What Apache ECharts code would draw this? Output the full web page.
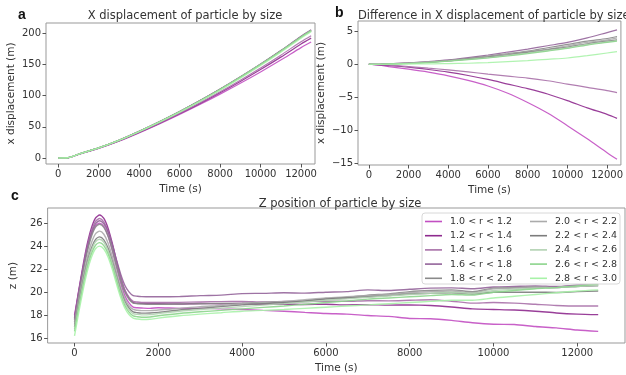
<!DOCTYPE html>
<html><head><meta charset="utf-8">
<script src="https://cdn.jsdelivr.net/npm/echarts@6/dist/echarts.min.js"></script>
<style>html,body{margin:0;padding:0;background:#fff}#c{width:626px;height:375px}</style>
</head><body><div id="c"></div>
<script>
// ---------- DATA ----------
const sizeLabels = ['1.0 < r < 1.2','1.2 < r < 1.4','1.4 < r < 1.6','1.6 < r < 1.8','1.8 < r < 2.0',
                    '2.0 < r < 2.2','2.2 < r < 2.4','2.4 < r < 2.6','2.6 < r < 2.8','2.8 < r < 3.0'];
const sizeColors = ['#c24fc2','#8e2a8e','#a870a8','#93649a','#8a8a8a',
                    '#ababab','#7c7c7c','#b2d2b2','#8cd48c','#a8f2a8'];

// panel a & b time points (s)
const timeAB = [0,500,1000,2000,3000,4000,5000,6000,7000,8000,9000,10000,11000,12000,12500];

// panel a: x displacement (m)
const xDisp = [
  [0,0.35,5.65,15.25,26.8,40.25,54.55,69.7,85.6,102.2,119.6,137.7,156.7,176.6,185.6],
  [0,0.4,5.8,15.55,27.2,40.8,55.3,70.7,87,104.3,122.5,141.5,161.4,182.4,191.8],
  [0,0.45,5.9,15.65,27.4,41.15,55.85,71.5,88.2,105.9,124.5,144,164.5,186,195.7],
  [0,0.5,6.05,16.2,28.4,42.65,58,74.4,91.85,110.3,129.8,150.3,172,194.8,205.2],
  [0,0.5,6.05,16.2,28.35,42.6,57.9,74.25,91.6,110,129.5,150,171.5,193.9,204.2],
  [0,0.5,6.05,16.15,28.35,42.55,57.85,74.15,91.5,109.9,129.3,149.8,171.3,193.7,204],
  [0,0.5,6.05,16.15,28.3,42.5,57.8,74.1,91.4,109.8,129.2,149.6,171.1,193.5,203.7],
  [0,0.5,6.05,16.15,28.3,42.5,57.75,74,91.35,109.7,129.1,149.5,171,193.4,203.6],
  [0,0.5,6.05,16.1,28.25,42.45,57.7,73.95,91.25,109.6,129,149.4,170.9,193.3,203.5],
  [0,0.5,6,16.05,28.05,42.1,57.15,73.25,90.4,108.55,127.75,147.95,169.3,191.7,201.9]
];

// panel b: difference in x displacement (m)
const xDiff = [
  [0,-0.15,-0.35,-0.75,-1.2,-1.75,-2.45,-3.3,-4.4,-5.8,-7.4,-9.3,-11.3,-13.4,-14.4],
  [0,-0.1,-0.2,-0.45,-0.8,-1.2,-1.7,-2.3,-3.0,-3.7,-4.5,-5.5,-6.6,-7.6,-8.2],
  [0,-0.05,-0.1,-0.35,-0.6,-0.85,-1.15,-1.5,-1.8,-2.1,-2.5,-3.0,-3.5,-4.0,-4.3],
  [0,0,0.05,0.2,0.4,0.65,1.0,1.4,1.85,2.3,2.8,3.3,4.0,4.8,5.2],
  [0,0,0.05,0.2,0.35,0.6,0.9,1.25,1.6,2.0,2.5,3.0,3.5,3.9,4.2],
  [0,0,0.05,0.15,0.35,0.55,0.85,1.15,1.5,1.9,2.3,2.8,3.3,3.7,4.0],
  [0,0,0.05,0.15,0.3,0.5,0.8,1.1,1.4,1.8,2.2,2.6,3.1,3.5,3.7],
  [0,0,0.05,0.15,0.3,0.5,0.75,1.0,1.35,1.7,2.1,2.5,3.0,3.4,3.6],
  [0,0,0.05,0.1,0.25,0.45,0.7,0.95,1.25,1.6,2.0,2.4,2.9,3.3,3.5],
  [0,0,0,0.05,0.05,0.1,0.15,0.25,0.4,0.55,0.75,0.95,1.3,1.7,1.9]
];

// panel c time points (s)
const timeC = [0,100,200,300,400,500,600,700,800,900,1000,1100,1200,1300,1400,1500,1600,1800,
  2000,2500,3000,3500,4000,4500,5000,5500,6000,6500,7000,7500,8000,8500,9000,9500,10000,10500,11000,11500,12000,12500];

// panel c: z position (m)
const zPos = [
  [18.0,20.08,22.0,23.68,24.96,25.76,26.0,25.71,24.9,23.66,22.2,20.82,19.72,19.07,18.7,18.65,18.63,18.6,
   18.65,18.6,18.62,18.55,18.5,18.42,18.35,18.25,18.15,18.1,17.98,17.9,17.72,17.7,17.55,17.35,17.22,17.2,17.02,16.9,16.72,16.6],
  [17.8,20.11,22.25,24.12,25.54,26.43,26.7,26.4,25.56,24.27,22.75,21.3,20.16,19.48,19.1,19.05,19.03,19.0,
   19.0,18.98,19.02,19.0,19.02,18.95,18.97,18.93,18.95,18.9,18.92,18.88,18.9,18.85,18.72,18.55,18.5,18.45,18.35,18.2,18.1,18.05],
  [17.7,19.96,22.05,23.88,25.27,26.14,26.4,26.11,25.32,24.1,22.66,21.29,20.21,19.56,19.2,19.15,19.12,19.1,
   19.1,19.12,19.15,19.18,19.2,19.15,19.2,19.18,19.22,19.2,19.26,19.25,19.3,19.35,19.22,19.05,19.1,19.05,18.95,18.85,18.8,18.8],
  [17.6,19.84,21.9,23.71,25.08,25.94,26.2,25.94,25.23,24.12,22.82,21.59,20.61,20.03,19.7,19.65,19.62,19.6,
   19.6,19.62,19.7,19.75,19.88,19.9,19.95,19.92,20.0,20.05,20.2,20.15,20.25,20.35,20.38,20.3,20.45,20.5,20.55,20.5,20.62,20.7],
  [17.4,19.61,21.65,23.44,24.8,25.65,25.9,25.63,24.87,23.71,22.34,21.04,20.01,19.39,19.05,19.0,18.98,18.95,
   18.95,18.97,19.0,19.02,19.05,19.1,19.15,19.2,19.45,19.55,19.75,19.85,20.05,20.15,20.2,20.05,20.35,20.4,20.45,20.4,20.5,20.55],
  [17.2,19.31,21.25,22.95,24.25,25.06,25.3,25.03,24.28,23.12,21.76,20.47,19.45,18.84,18.5,18.43,18.4,18.4,
   18.45,18.6,18.75,18.85,19.0,19.1,19.2,19.35,19.5,19.6,19.7,19.8,19.95,20.05,20.1,19.95,20.3,20.35,20.4,20.4,20.55,20.65],
  [17.0,19.03,20.9,22.54,23.79,24.57,24.8,24.54,23.83,22.72,21.42,20.19,19.21,18.63,18.3,18.22,18.18,18.2,
   18.25,18.45,18.6,18.75,18.9,19.0,19.1,19.25,19.4,19.5,19.6,19.7,19.85,19.9,19.95,19.85,20.0,20.0,20.0,19.98,20.05,20.1],
  [16.8,18.83,20.7,22.34,23.59,24.37,24.6,24.34,23.63,22.54,21.25,20.02,19.05,18.47,18.15,18.07,18.03,18.05,
   18.15,18.35,18.5,18.62,18.75,18.88,19.0,19.15,19.3,19.42,19.55,19.68,19.8,19.9,20.0,19.9,20.15,20.25,20.35,20.4,20.5,20.6],
  [16.6,18.6,20.45,22.07,23.3,24.07,24.3,24.05,23.35,22.27,21.0,19.79,18.84,18.27,17.95,17.87,17.83,17.85,
   17.95,18.15,18.3,18.42,18.55,18.68,18.8,18.95,19.1,19.25,19.4,19.5,19.6,19.7,19.8,19.75,20.0,20.15,20.3,20.4,20.55,20.7],
  [16.2,18.23,20.1,21.74,22.99,23.77,24.0,23.75,23.06,22.0,20.75,19.56,18.63,18.06,17.75,17.67,17.63,17.65,
   17.75,17.95,18.1,18.22,18.35,18.42,18.5,18.6,18.7,18.8,18.9,19.0,19.1,19.2,19.3,19.3,19.5,19.65,19.8,19.95,20.1,20.2]
];

// tick labels
const timeTicks = [0,2000,4000,6000,8000,10000,12000];
const xDispTicks = [0,50,100,150,200];
const xDiffTicks = [-15,-10,-5,0,5];
const zTicks = [16,18,20,22,24,26];

// ---------- CHART ----------
const FONT = 'DejaVu Sans';
const TXT = '#333';
const chart = echarts.init(document.getElementById('c'), null, {renderer:'canvas'});

function xAx(grid, min, max){
  return {type:'value', gridIndex:grid, min:min, max:max, position:'bottom', name:'Time (s)', nameLocation:'middle',
    nameGap:20, nameTextStyle:{fontFamily:FONT,fontSize:10.5,color:TXT},
    axisLine:{show:false, onZero:false}, splitLine:{show:false},
    axisTick:{show:true, length:3.5, customValues:timeTicks, lineStyle:{color:'#555'}},
    axisLabel:{customValues:timeTicks, fontFamily:FONT, fontSize:10, color:TXT, margin:5,
      formatter: v=>String(v)}};
}
function yAx(grid, min, max, ticks, name, gap, fmt){
  return {type:'value', gridIndex:grid, min:min, max:max, position:'left', name:name, nameLocation:'middle',
    nameGap:gap, nameRotate:90, nameTextStyle:{fontFamily:FONT,fontSize:10.5,color:TXT},
    axisLine:{show:false, onZero:false}, splitLine:{show:false},
    axisTick:{show:true, length:3.5, customValues:ticks, lineStyle:{color:'#555'}},
    axisLabel:{customValues:ticks, fontFamily:FONT, fontSize:10, color:TXT, margin:5,
      formatter: fmt || (v=>String(v))}};
}

const series = [];
sizeLabels.forEach((name,i)=>{
  const base = {name:name, type:'line', showSymbol:false, symbol:'none', smooth:0.3,
    lineStyle:{color:sizeColors[i], width:1.2, opacity:0.9}, itemStyle:{color:sizeColors[i]},
    emphasis:{disabled:true}, animation:false, z:2+i};
  series.push(Object.assign({}, base, {xAxisIndex:0, yAxisIndex:0,
    data: timeAB.map((t,k)=>[t, xDisp[i][k]])}));
  series.push(Object.assign({}, base, {xAxisIndex:1, yAxisIndex:1,
    data: timeAB.map((t,k)=>[t, xDiff[i][k]])}));
  series.push(Object.assign({}, base, {xAxisIndex:2, yAxisIndex:2, smooth:0.25,
    lineStyle:{color:sizeColors[i], width:1.4, opacity:0.9},
    data: timeC.map((t,k)=>[t, zPos[i][k]])}));
});

const legendCommon = {orient:'vertical', icon:'rect', itemWidth:17, itemHeight:1.6, itemGap:2.2,
  padding:0, z:20, textStyle:{fontFamily:FONT, fontSize:9.5, color:TXT, lineHeight:12, padding:[0,0,0,3]},
  selectedMode:false};

chart.setOption({
  animation:false,
  backgroundColor:'#fff',
  grid:[
    {left:46, top:23, width:269, height:141, show:true, borderColor:'#999', borderWidth:1},
    {left:358, top:21, width:267, height:144, show:true, borderColor:'#999', borderWidth:1},
    {left:45, top:208, width:580, height:143, show:true, borderColor:'#999', borderWidth:1}
  ],
  xAxis:[xAx(0,-600,12690), xAx(1,-546,12696), xAx(2,-642,13140)],
  yAxis:[
    yAx(0,-9.6,216,xDispTicks,'x displacement (m)',29),
    yAx(1,-15.26,6.55,xDiffTicks,'x displacement (m)',31, v=> v<0 ? '\u2212'+Math.abs(v) : String(v)),
    yAx(2,15.59,27.31,zTicks,'z (m)',25)
  ],
  legend:[
    Object.assign({left:425, top:215.5, data:sizeLabels.slice(0,5)}, legendCommon),
    Object.assign({left:530, top:215.5, data:sizeLabels.slice(5)}, legendCommon)
  ],
  title:[
    {text:'X displacement of particle by size', left:180, top:5, textAlign:'center',
      textStyle:{fontFamily:FONT, fontSize:11.5, fontWeight:'normal', color:TXT}},
    {text:'Difference in X displacement of particle by size', left:353, top:5,
      textStyle:{fontFamily:FONT, fontSize:11.5, fontWeight:'normal', color:TXT}},
    {text:'Z position of particle by size', left:335, top:193, textAlign:'center',
      textStyle:{fontFamily:FONT, fontSize:11.5, fontWeight:'normal', color:TXT}}
  ],
  graphic:[
    {type:'rect', shape:{x:422, y:213, width:198, height:71, r:3}, z:15,
      style:{fill:'rgba(255,255,255,0.85)', stroke:'#d8d8d8', lineWidth:1}},
    {type:'text', left:18, top:8, z:10, style:{text:'a', font:'bold 14px "Liberation Sans"', fill:'#111'}},
    {type:'text', left:335, top:6, z:10, style:{text:'b', font:'bold 14px "Liberation Sans"', fill:'#111'}},
    {type:'text', left:11, top:189, z:10, style:{text:'c', font:'bold 14px "Liberation Sans"', fill:'#111'}}
  ],
  series:series
});
</script></body></html>
